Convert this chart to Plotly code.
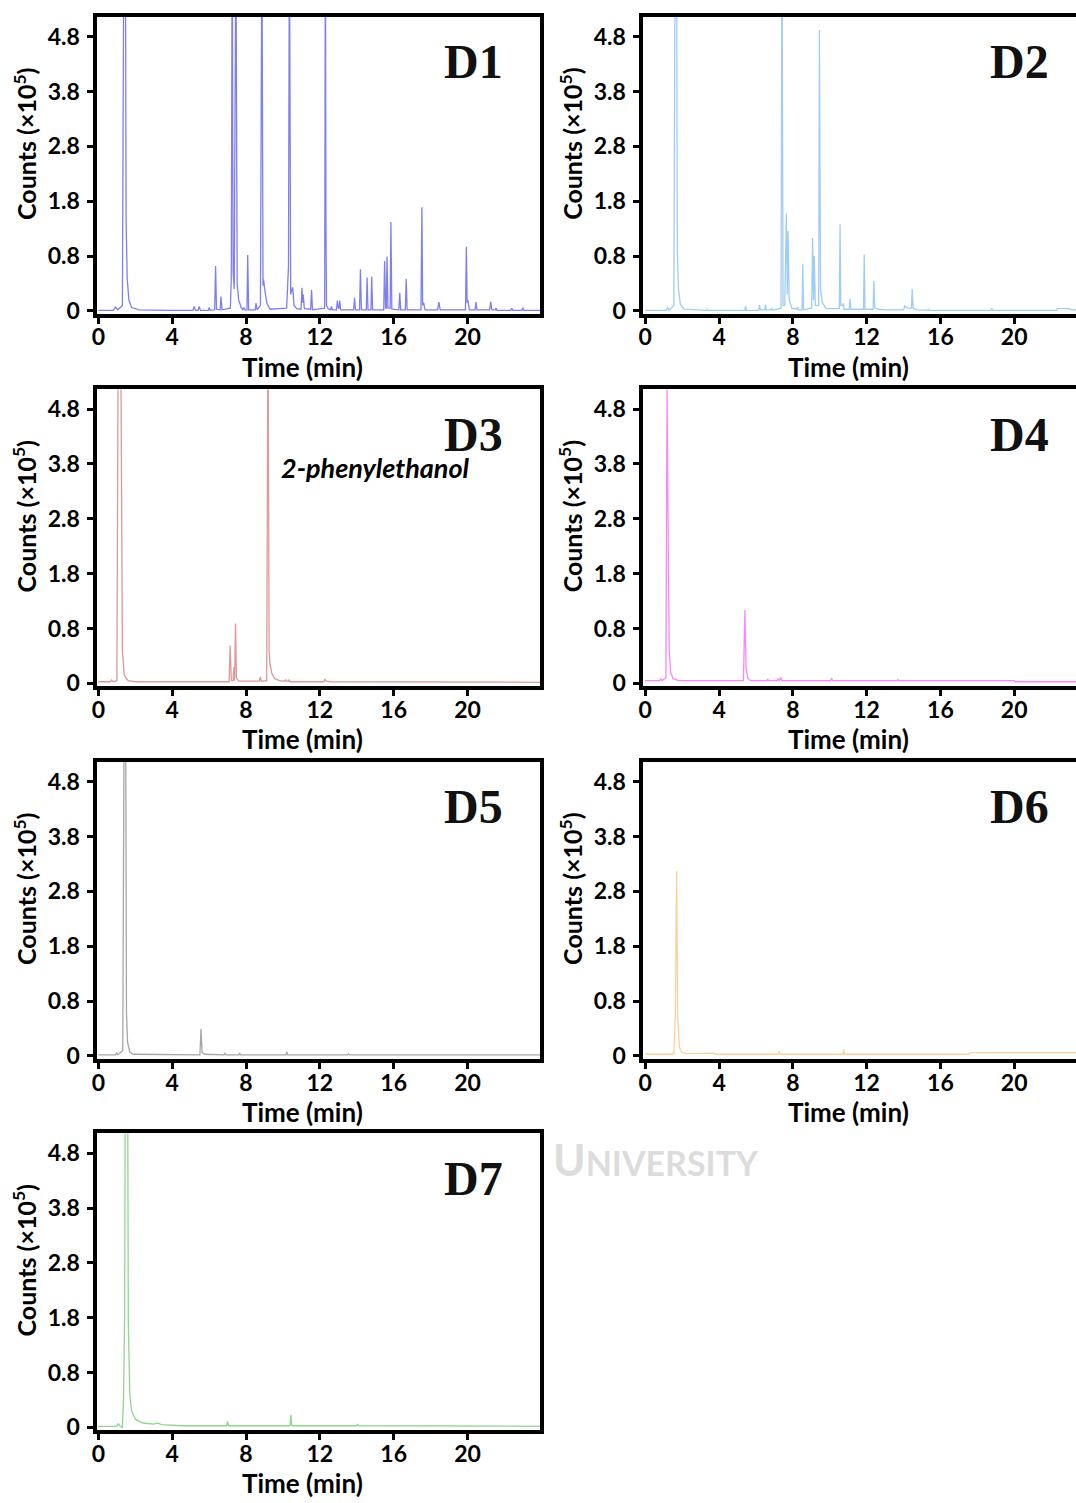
import plotly.graph_objects as go

W, H = 1076, 1503

# ---------------- axis ticks / labels ----------------
y_tick_pos = [0, 1, 2, 3, 4, 5]
y_tick_text = ["0", "0.8", "1.8", "2.8", "3.8", "4.8"]
x_tick_vals = [0, 4, 8, 12, 16, 20]
x_tick_text = ["0", "4", "8", "12", "16", "20"]

panel_names = ["D1", "D2", "D3", "D4", "D5", "D6", "D7"]
panel_colors = ["#7f7ff0", "#9fcdf6", "#dc9a9a", "#ff84fb", "#a6a6a6", "#fdcf9c", "#8fd68f"]

# ---------------- chromatogram data (time in min, counts in tick units) ----------------
d1_t = [0, 0.8, 0.92, 1.05, 1.3, 1.38, 1.46, 1.5, 1.56, 1.65, 1.8, 2.2, 4.0, 5.12, 5.19, 5.26, 5.4, 5.46, 5.53,
        5.95, 6.0, 6.06, 6.3, 6.35, 6.4, 6.6, 6.64, 6.7, 7.15, 7.2, 7.25, 7.3, 7.36, 7.45, 7.52, 7.6, 7.75,
        7.83, 7.88, 7.94, 8.05, 8.09, 8.14, 8.5, 8.54, 8.6, 8.78, 8.86, 8.92, 8.95, 9.05, 9.13, 9.3,
        10.2, 10.3, 10.35, 10.42, 10.53, 10.6, 10.75, 10.98, 11.03, 11.07, 11.1, 11.16, 11.5, 11.55, 11.6,
        12.26, 12.3, 12.33, 12.36, 12.45, 12.58, 12.63, 12.68, 12.9, 12.95, 13.0, 13.05, 13.08, 13.13,
        13.83, 13.88, 13.93, 14.15, 14.2, 14.25, 14.52, 14.56, 14.61, 14.77, 14.81, 14.86,
        15.46, 15.51, 15.56, 15.6, 15.64, 15.69, 15.81, 15.85, 15.9, 16.28, 16.33, 16.38, 16.63, 16.68, 16.73,
        17.48, 17.53, 17.57, 17.62, 17.7, 18.38, 18.45, 18.52, 19.89, 19.94, 19.98, 20.02, 20.1,
        20.41, 20.46, 20.51, 21.2, 21.26, 21.32, 21.5, 21.55, 21.6, 22.35, 22.4, 22.45, 22.95, 23.0, 23.05, 24]
d1_y = [0.01, 0.01, 0.07, 0.02, 0.1, 7.0, 7.0, 1.65, 0.6, 0.2, 0.06, 0.02, 0.01, 0.01, 0.08, 0.01, 0.01, 0.08, 0.01,
        0.01, 0.06, 0.01, 0.02, 0.82, 0.03, 0.02, 0.26, 0.02, 0.05, 0.6, 7.0, 0.7, 0.4, 7.0, 0.5, 0.2, 0.05,
        0.02, 0.06, 0.02, 0.02, 1.02, 0.02, 0.02, 0.14, 0.02, 0.1, 7.0, 0.46, 0.57, 0.3, 0.14, 0.03,
        0.05, 0.81, 7.0, 0.3, 0.43, 0.1, 0.04, 0.03, 0.42, 0.15, 0.3, 0.04, 0.03, 0.38, 0.02,
        0.05, 7.0, 1.6, 0.1, 0.04, 0.02, 0.08, 0.02, 0.02, 0.19, 0.05, 0.05, 0.19, 0.02,
        0.02, 0.24, 0.02, 0.02, 0.76, 0.02, 0.02, 0.61, 0.02, 0.02, 0.62, 0.02,
        0.02, 0.91, 0.05, 0.05, 0.99, 0.05, 0.05, 1.62, 0.03, 0.02, 0.33, 0.02, 0.02, 0.58, 0.02,
        0.02, 1.89, 0.1, 0.15, 0.02, 0.02, 0.16, 0.02, 0.02, 1.17, 0.15, 0.2, 0.02,
        0.02, 0.16, 0.02, 0.02, 0.17, 0.02, 0.02, 0.05, 0.01, 0.01, 0.05, 0.01, 0.01, 0.06, 0.01, 0.01]

d2_t = [0, 1.15, 1.21, 1.28, 1.55, 1.62, 1.7, 1.74, 1.8, 1.9, 2.1, 3.3, 3.36, 3.42, 5.4, 5.44, 5.48, 6.15, 6.19, 6.24,
        6.48, 6.52, 6.56, 6.8, 6.85, 6.9, 7.36, 7.41, 7.47, 7.56, 7.65, 7.7, 7.74, 7.8, 7.95, 8.2, 8.25, 8.3,
        8.5, 8.54, 8.58, 9.02, 9.07, 9.12, 9.16, 9.22, 9.4, 9.44, 9.5, 9.6, 9.8, 10.52, 10.56, 10.6, 10.7, 10.74,
        10.78, 11.06, 11.1, 11.15, 11.83, 11.87, 11.91, 12.35, 12.39, 12.44, 12.6, 13.0, 14.0, 14.07, 14.2,
        14.43, 14.47, 14.52, 14.7, 15.3, 15.35, 15.4, 18.74, 18.79, 18.84, 22.3, 22.35, 23.0, 23.05, 24]
d2_y = [0.01, 0.01, 0.06, 0.01, 0.1, 7.0, 7.0, 1.1, 0.4, 0.12, 0.03, 0.01, 0.03, 0.01, 0.01, 0.09, 0.01, 0.01, 0.11, 0.02,
        0.02, 0.11, 0.02, 0.02, 0.05, 0.01, 0.05, 7.0, 0.1, 0.1, 1.77, 0.3, 1.45, 0.2, 0.05, 0.03, 0.07, 0.02,
        0.02, 0.85, 0.02, 0.05, 1.33, 0.2, 1.0, 0.1, 0.1, 5.12, 0.4, 0.15, 0.04, 0.04, 1.58, 0.1, 0.1, 0.14,
        0.03, 0.03, 0.22, 0.03, 0.03, 1.03, 0.03, 0.03, 0.55, 0.05, 0.03, 0.02, 0.02, 0.09, 0.05,
        0.05, 0.40, 0.05, 0.02, 0.01, 0.03, 0.01, 0.01, 0.05, 0.01, 0.01, 0.04, 0.04, 0.02, 0.02]

d3_t = [0, 0.65, 0.71, 0.8, 1.0, 1.08, 1.2, 1.25, 1.3, 1.4, 1.6, 2.0, 7.08, 7.14, 7.2, 7.3, 7.34, 7.38, 7.43,
        7.48, 7.6, 8.72, 8.77, 8.83, 9.12, 9.19, 9.25, 9.3, 9.4, 9.55, 9.8, 10.1, 10.14, 10.2, 10.3, 10.33, 10.38,
        12.23, 12.28, 12.35, 12.6, 24]
d3_y = [0.03, 0.03, 0.06, 0.03, 0.05, 7.0, 7.0, 3.4, 0.6, 0.15, 0.05, 0.03, 0.03, 0.69, 0.05, 0.05, 0.3, 0.05, 1.09,
        0.1, 0.04, 0.04, 0.12, 0.04, 0.05, 7.0, 0.6, 0.35, 0.18, 0.09, 0.05, 0.04, 0.07, 0.04, 0.04, 0.07, 0.03,
        0.03, 0.08, 0.04, 0.03, 0.02]

d4_t = [0, 0.78, 0.84, 0.9, 1.12, 1.18, 1.26, 1.3, 1.38, 1.5, 1.8, 5.32, 5.4, 5.46, 5.55, 5.7, 6.6, 6.64, 6.68,
        7.15, 7.2, 7.25, 7.3, 7.35, 7.4, 10.05, 10.1, 10.15, 13.65, 13.7, 13.75, 20.0, 20.05, 24]
d4_y = [0.05, 0.05, 0.08, 0.05, 0.1, 5.4, 2.0, 0.6, 0.2, 0.09, 0.05, 0.05, 1.34, 0.3, 0.1, 0.05, 0.05, 0.08, 0.05,
        0.05, 0.09, 0.05, 0.07, 0.11, 0.05, 0.05, 0.1, 0.05, 0.05, 0.07, 0.05, 0.05, 0.03, 0.03]

d5_t = [0, 0.93, 0.99, 1.05, 1.32, 1.4, 1.47, 1.52, 1.58, 1.7, 1.9, 5.5, 5.56, 5.62, 5.75, 6.8, 6.85, 6.9,
        7.6, 7.65, 7.7, 10.16, 10.21, 10.26, 13.5, 13.55, 13.6, 24]
d5_y = [0.02, 0.02, 0.06, 0.02, 0.1, 7.0, 7.0, 0.8, 0.25, 0.07, 0.03, 0.02, 0.49, 0.06, 0.03, 0.02, 0.05, 0.02,
        0.02, 0.05, 0.02, 0.02, 0.07, 0.02, 0.02, 0.04, 0.02, 0.02]

d6_t = [0, 1.45, 1.5, 1.55, 1.63, 1.70, 1.76, 1.85, 2.0, 2.3, 3.7, 3.8, 7.2, 7.25, 7.3, 10.7, 10.75, 10.8,
        17.55, 17.6, 24]
d6_y = [0.03, 0.03, 0.05, 0.03, 0.8, 3.37, 0.7, 0.15, 0.06, 0.04, 0.05, 0.03, 0.03, 0.08, 0.03, 0.03, 0.12, 0.03,
        0.03, 0.06, 0.06]

d7_t = [0, 1.0, 1.08, 1.15, 1.3, 1.36, 1.42, 1.46, 1.58, 1.62, 1.7, 1.8, 2.0, 2.4, 3.0, 3.2, 3.4, 4.5, 6.95, 7.0, 7.05,
        10.38, 10.43, 10.48, 13.99, 14.04, 14.09, 24]
d7_y = [0.02, 0.02, 0.07, 0.03, 0.0, 0.5, 2.0, 7.0, 7.0, 1.9, 0.6, 0.3, 0.15, 0.08, 0.06, 0.08, 0.05, 0.03, 0.03, 0.11, 0.03,
        0.03, 0.23, 0.03, 0.03, 0.06, 0.03, 0.02]

series_t = [d1_t, d2_t, d3_t, d4_t, d5_t, d6_t, d7_t]
series_y = [d1_y, d2_y, d3_y, d4_y, d5_y, d6_y, d7_y]

# ---------------- layout geometry (pixels) ----------------
col_left = [(92, 537), (641, 1076)]
row_top = [17, 392, 767, 1141]
row_h = 299
x_ranges = [[-0.05, 23.93], [-0.1, 23.35]]
y_range = [-0.055, 5.36]

FONT = "Lato"
fig = go.Figure()
annotations = []

for i in range(7):
    r, c = divmod(i, 2)
    x0, x1 = col_left[c]
    top = row_top[r]
    bot = top + row_h
    xa = "xaxis" if i == 0 else f"xaxis{i+1}"
    ya = "yaxis" if i == 0 else f"yaxis{i+1}"
    xs = "x" if i == 0 else f"x{i+1}"
    ys = "y" if i == 0 else f"y{i+1}"

    fig.add_trace(go.Scatter(x=series_t[i], y=series_y[i], mode="lines",
                             line=dict(color=panel_colors[i], width=1.3),
                             xaxis=xs, yaxis=ys, showlegend=False, hoverinfo="skip"))

    fig.layout[xa] = dict(domain=[x0 / W, x1 / W], anchor=ys, range=x_ranges[c],
                          tickmode="array", tickvals=x_tick_vals, ticktext=x_tick_text,
                          showline=True, linecolor="black", linewidth=4, mirror=True,
                          ticks="outside", ticklen=6, tickwidth=3, tickcolor="black",
                          showgrid=False, zeroline=False, ticklabelstandoff=-6,
                          tickfont=dict(family=FONT, size=23, color="black", weight="bold"))
    fig.layout[ya] = dict(domain=[1 - bot / H, 1 - top / H], anchor=xs, range=y_range,
                          tickmode="array", tickvals=y_tick_pos, ticktext=y_tick_text,
                          showline=True, linecolor="black", linewidth=4, mirror=(c == 0),
                          ticks="outside", ticklen=6, tickwidth=3, tickcolor="black",
                          showgrid=False, zeroline=False, ticklabelstandoff=3,
                          tickfont=dict(family=FONT, size=23, color="black", weight="bold"))

    # y-axis title
    annotations.append(dict(text="Counts (×10<sup>5</sup>)", textangle=-90,
                            x=(x0 - 73) / W, y=1 - (top + 128) / H, xref="paper", yref="paper",
                            xanchor="center", yanchor="middle", showarrow=False,
                            font=dict(family=FONT, size=25, color="black", weight="bold")))
    # x-axis title
    annotations.append(dict(text="Time (min)", x=(x0 + 206) / W, y=1 - (bot + 53) / H,
                            xref="paper", yref="paper", xanchor="center", yanchor="middle",
                            showarrow=False,
                            font=dict(family=FONT, size=26, color="black", weight="bold")))
    # panel label
    annotations.append(dict(text=panel_names[i], x=(x0 + 378) / W, y=1 - (top + 45) / H,
                            xref="paper", yref="paper", xanchor="center", yanchor="middle",
                            showarrow=False,
                            font=dict(family="Liberation Serif", size=48, color="#111111", weight="bold")))

# compound label in D3
annotations.append(dict(text="<i>2-phenylethanol</i>", x=372 / W, y=1 - 471 / H, xref="paper", yref="paper",
                        xanchor="center", yanchor="middle", showarrow=False,
                        font=dict(family=FONT, size=27, color="black", weight="bold")))
# faint watermark text
annotations.append(dict(text="U<span style='font-size:34px'>NIVERSITY</span>", x=654 / W, y=1 - 1167 / H,
                        xref="paper", yref="paper", xanchor="center", yanchor="middle", showarrow=False,
                        font=dict(family=FONT, size=44, color="rgba(205,205,205,0.7)", weight="bold")))

fig.update_layout(width=W, height=H, margin=dict(l=0, r=0, t=0, b=0),
                  paper_bgcolor="white", plot_bgcolor="white",
                  annotations=annotations, showlegend=False)

fig.write_html("out.html", config={"displayModeBar": False, "staticPlot": True},
               post_script="document.body.style.margin='0px';document.body.style.overflow='hidden';")
